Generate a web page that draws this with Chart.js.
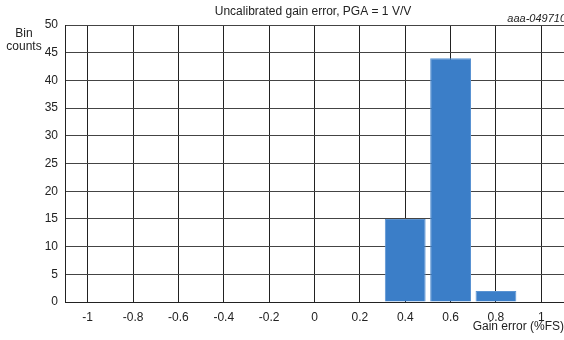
<!DOCTYPE html>
<html lang="en">
  <head>
    <meta charset="UTF-8" />
    <title>Uncalibrated gain error</title>
    <script src="https://cdn.jsdelivr.net/npm/chart.js"></script>
    <style>
      html, body { margin: 0; padding: 0; background: #fff; }
      #gainChart { display: block; }
    </style>
  </head>
  <body>
    <canvas id="gainChart" width="564" height="340"></canvas>

    <script>
      // histogram data
      const binCenters = [0.4, 0.6, 0.8];
      const binCounts = [15, 44, 2];
      const xTicks = [-1, -0.8, -0.6, -0.4, -0.2, 0, 0.2, 0.4, 0.6, 0.8, 1];
      const yTicks = [0, 5, 10, 15, 20, 25, 30, 35, 40, 45, 50];

      const FONT = "'Liberation Sans', Arial, sans-serif";

      // extra texts: title, figure id, axis titles
      const labelsPlugin = {
        id: "labels",
        afterDraw(chart) {
          const ctx = chart.ctx;
          ctx.save();
          ctx.fillStyle = "#222";
          ctx.textBaseline = "middle";
          ctx.font = "12px " + FONT;
          ctx.textAlign = "center";
          ctx.fillText("Uncalibrated gain error, PGA = 1 V/V", 313, 12);
          ctx.fillText("Bin", 24, 34);
          ctx.fillText("counts", 24, 47);
          ctx.textAlign = "right";
          ctx.fillText("Gain error (%FS)", 564, 327);
          ctx.font = "italic 11px " + FONT;
          ctx.fillText("aaa-049710", 566, 19);
          ctx.restore();
        },
      };

      new Chart(document.getElementById("gainChart"), {
        type: "bar",
        data: {
          datasets: [
            {
              data: binCenters.map((x, i) => ({ x: x, y: binCounts[i] })),
              backgroundColor: "#3b7ec8",
              borderColor: "#5a93d2",
              borderWidth: 1,
              barPercentage: 0.9,
              categoryPercentage: 1,
            },
          ],
        },
        options: {
          responsive: false,
          animation: false,
          devicePixelRatio: 1,
          layout: { padding: { top: 25, right: 0, left: 0, bottom: 0 } },
          plugins: { legend: { display: false }, tooltip: { enabled: false } },
          scales: {
            x: {
              type: "linear",
              min: -1.1,
              max: 1.1,
              offset: false,
              afterBuildTicks(scale) {
                scale.ticks = xTicks.map((v) => ({ value: v }));
              },
              afterFit(scale) {
                scale.height = 38;
              },
              grid: { color: "#222", lineWidth: 1, drawTicks: false, offset: false },
              border: { color: "#222", width: 1 },
              ticks: {
                color: "#222",
                font: { family: FONT, size: 12 },
                padding: 8,
                maxRotation: 0,
                autoSkip: false,
                callback: (v) => String(v),
              },
            },
            y: {
              min: 0,
              max: 50,
              afterBuildTicks(scale) {
                scale.ticks = yTicks.map((v) => ({ value: v }));
              },
              afterFit(scale) {
                scale.width = 65;
              },
              grid: { color: "#444", lineWidth: 1, drawTicks: false },
              border: { color: "#222", width: 1 },
              ticks: {
                color: "#222",
                font: { family: FONT, size: 12 },
                padding: 7,
                autoSkip: false,
              },
            },
          },
        },
        plugins: [labelsPlugin],
      });
    </script>
  </body>
</html>
